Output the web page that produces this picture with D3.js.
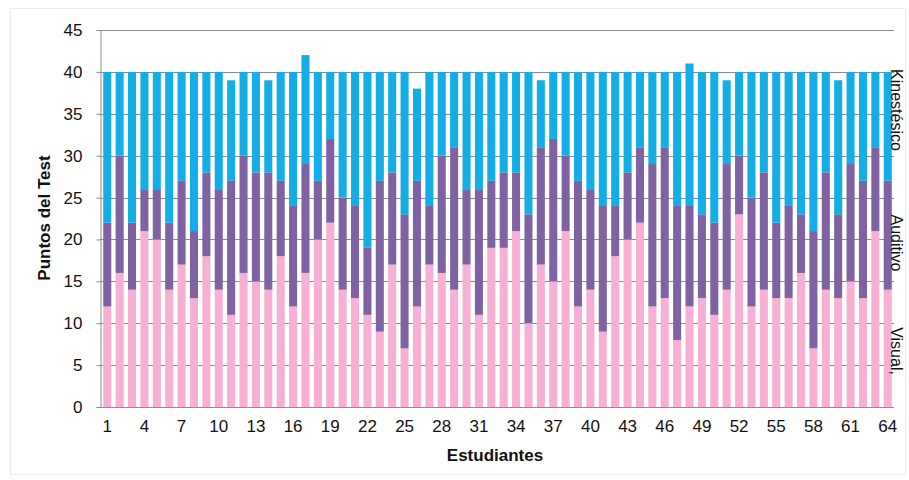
<!DOCTYPE html>
<html>
<head>
<meta charset="utf-8">
<script src="https://cdn.jsdelivr.net/npm/d3@7"></script>
<style>
  html, body { margin: 0; padding: 0; background: #fff; }
  svg { display: block; font-family: "Liberation Sans", Arial, sans-serif; }
</style>
</head>
<body>
<svg id="chart" width="909" height="480"></svg>
<script>
// Data
const students = d3.range(1, 65);
const visual = [12,16,14,21,20,14,17,13,18,14,11,16,15,14,18,12,16,20,22,14,13,11,9,17,7,12,17,16,14,17,11,19,19,21,10,17,15,21,12,14,9,18,20,22,12,13,8,12,13,11,14,23,12,14,13,13,16,7,14,13,15,13,21,14];
const auditivo = [10,14,8,5,6,8,10,8,10,12,16,14,13,14,9,12,13,7,10,11,11,8,18,11,16,15,7,14,17,9,15,8,9,7,13,14,17,9,15,12,15,6,8,9,17,18,16,12,10,11,15,7,13,14,9,11,7,14,14,10,14,14,10,13];
const kinestesico = [18,10,18,14,14,18,13,19,12,14,12,10,12,11,13,16,13,13,8,15,16,21,13,12,17,11,16,10,9,14,14,13,12,12,17,8,8,10,13,14,16,16,12,9,11,9,16,17,17,18,10,10,15,12,18,16,17,19,12,16,11,13,9,13];
const seriesNames = ["Visual,", "Auditivo", "Kinestésico"];
const seriesKeys = ["visual", "auditivo", "kinestesico"];
const colors = ["#f7b0d3", "#7f62a1", "#14ade6"];
const yTicks = [0,5,10,15,20,25,30,35,40,45];
const xTickLabels = students.filter(d => (d - 1) % 3 === 0);

(function draw() {
const rows = students.map((s, i) => ({ s, visual: visual[i], auditivo: auditivo[i], kinestesico: kinestesico[i] }));
const stacked = d3.stack().keys(seriesKeys)(rows);

const svg = d3.select("#chart");
const mLeft = 101, mRight = 894, mTop = 30, mBottom = 407;

// faint chart border
svg.append("rect").attr("x", 10.5).attr("y", 8.5).attr("width", 895).attr("height", 466)
  .attr("fill", "none").attr("stroke", "#ececec");

const x = d3.scaleBand().domain(students).range([mLeft, mRight]).paddingInner(0.35).paddingOuter(0.18);
const y = d3.scaleLinear().domain([0, 45]).range([mBottom, mTop]);

// gridlines
svg.append("g").selectAll("line").data(yTicks).join("line")
  .attr("x1", mLeft - 1).attr("x2", mRight)
  .attr("y1", d => Math.round(y(d)) + 0.5).attr("y2", d => Math.round(y(d)) + 0.5)
  .attr("stroke", "#8c8c8c").attr("stroke-width", 1);

// bars
svg.append("g").selectAll("g").data(stacked).join("g")
  .attr("fill", (d, i) => colors[i])
  .selectAll("rect").data(d => d).join("rect")
  .attr("x", d => x(d.data.s))
  .attr("width", x.bandwidth())
  .attr("y", d => y(d[1]))
  .attr("height", d => y(d[0]) - y(d[1]));

// y axis
const yAxis = d3.axisLeft(y).tickValues(yTicks).tickSize(4).tickPadding(14);
const gy = svg.append("g").attr("transform", `translate(${mLeft - 0.5},0)`).call(yAxis);
gy.select(".domain").attr("stroke", "#8c8c8c");
gy.selectAll(".tick line").attr("stroke", "#8c8c8c");
gy.selectAll("text").attr("font-size", 17).attr("fill", "#111").attr("font-family", "Liberation Sans, Arial, sans-serif");

// x axis
const xAxis = d3.axisBottom(x).tickValues(xTickLabels).tickSize(0).tickPadding(12);
const gx = svg.append("g").attr("transform", `translate(0,${mBottom + 0.5})`).call(xAxis);
gx.select(".domain").attr("stroke", "#8c8c8c").attr("d", `M${mLeft - 1},0H${mRight}`);
gx.selectAll("text").attr("font-size", 17).attr("fill", "#111").attr("font-family", "Liberation Sans, Arial, sans-serif");

// axis titles
svg.append("text").attr("x", 495).attr("y", 461).attr("text-anchor", "middle")
  .attr("font-size", 17).attr("font-weight", "bold").attr("fill", "#111").text("Estudiantes");
svg.append("text").attr("transform", "translate(50,218) rotate(-90)").attr("text-anchor", "middle")
  .attr("font-size", 17).attr("font-weight", "bold").attr("fill", "#111").text("Puntos del Test");

// right side series labels (rotated)
const labelCenters = [351, 243, 110];
seriesNames.forEach((name, i) => {
  svg.append("text")
    .attr("transform", `translate(891,${labelCenters[i]}) rotate(90)`)
    .attr("text-anchor", "middle")
    .attr("font-size", 16).attr("fill", "#111").text(name);
});
})();
</script>
</body>
</html>
